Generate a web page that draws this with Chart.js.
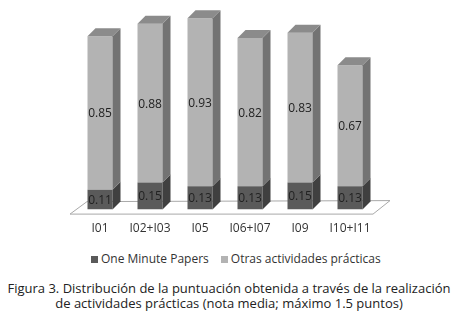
<!DOCTYPE html>
<html>
<head>
<meta charset="utf-8">
<script src="https://cdn.jsdelivr.net/npm/chart.js@4.4.0/dist/chart.umd.min.js"></script>
<style>
  body { margin: 0; background: #fff; }
  #wrap { position: relative; width: 458px; height: 314px; overflow: hidden; font-family: "Open Sans", sans-serif; }
  #box { position: absolute; left: 0; top: 0; width: 458px; height: 248px; }
  #legend {
    position: absolute; left: 91px; top: 251px; display: flex; gap: 12px;
    font-size: 12px; line-height: 16px; color: #333;
  }
  #legend span.sw { display: inline-block; width: 7px; height: 7px; margin-right: 3px; vertical-align: 0px; }
  #caption {
    position: absolute; left: 0; top: 281px; width: 458px;
    text-align: center; font-size: 13px; line-height: 15px; color: #222;
  }
</style>
</head>
<body>
<div id="wrap">
  <div id="box"><canvas id="chart"></canvas></div>
  <div id="legend"></div>
  <div id="caption">Figura 3. Distribución de la puntuación obtenida a través de la realización<br>de actividades prácticas (nota media; máximo 1.5 puntos)</div>
</div>
<script>
const labels = ["I01", "I02+I03", "I05", "I06+I07", "I09", "I10+I11"];
const oneMinutePapers = [0.11, 0.15, 0.13, 0.13, 0.15, 0.13];
const otrasActividades = [0.85, 0.88, 0.93, 0.82, 0.83, 0.67];

// depth of the fake 3d boxes
const DX = 8;
const DY = 8;

const sideColors = ["#404040", "#737373"];
const topColor = "#8b8b8b";

const floorPlugin = {
  id: "floor",
  beforeDatasetsDraw(chart) {
    const ctx = chart.ctx;
    const x = chart.scales.x;
    const y0 = chart.scales.y.getPixelForValue(0);
    const left = x.left;
    const right = x.right;
    ctx.save();
    ctx.beginPath();
    ctx.moveTo(left - 5, y0 + 4.5);
    ctx.lineTo(right - 2, y0 + 4.5);
    ctx.lineTo(right + 15, y0 - 9);
    ctx.lineTo(left + 12, y0 - 8);
    ctx.closePath();
    ctx.fillStyle = "#fff";
    ctx.fill();
    ctx.strokeStyle = "#a8a8a8";
    ctx.lineWidth = 1;
    ctx.stroke();
    ctx.restore();
  }
};

const boxPlugin = {
  id: "box3d",
  afterDatasetsDraw(chart) {
    const ctx = chart.ctx;
    ctx.save();
    chart.data.datasets.forEach((ds, di) => {
      const meta = chart.getDatasetMeta(di);
      meta.data.forEach((bar, i) => {
        const p = bar.getProps(["x", "y", "base", "width"], true);
        const x2 = p.x + p.width / 2;
        const x1 = p.x - p.width / 2;
        // side face
        ctx.beginPath();
        ctx.moveTo(x2, p.y);
        ctx.lineTo(x2 + DX, p.y - DY);
        ctx.lineTo(x2 + DX, p.base - DY);
        ctx.lineTo(x2, p.base);
        ctx.closePath();
        ctx.fillStyle = sideColors[di];
        ctx.fill();
        // top face only on the last segment
        if (di === chart.data.datasets.length - 1) {
          ctx.beginPath();
          ctx.moveTo(x1, p.y);
          ctx.lineTo(x1 + DX, p.y - DY);
          ctx.lineTo(x2 + DX, p.y - DY);
          ctx.lineTo(x2, p.y);
          ctx.closePath();
          ctx.fillStyle = topColor;
          ctx.fill();
        }
        // value label
        ctx.fillStyle = "#222";
        ctx.font = "12px 'Open Sans', sans-serif";
        ctx.textAlign = "center";
        ctx.textBaseline = "middle";
        ctx.fillText(ds.data[i].toFixed(2), p.x, (p.y + p.base) / 2 + 1);
      });
    });
    ctx.restore();
  }
};

const chart = new Chart(document.getElementById("chart"), {
  type: "bar",
  data: {
    labels: labels,
    datasets: [
      {
        label: "One Minute Papers",
        data: oneMinutePapers,
        backgroundColor: "#5a5a5a",
        categoryPercentage: 1,
        barPercentage: 0.5
      },
      {
        label: "Otras actividades prácticas",
        data: otrasActividades,
        backgroundColor: "#b3b3b3",
        categoryPercentage: 1,
        barPercentage: 0.5
      }
    ]
  },
  options: {
    responsive: true,
    maintainAspectRatio: false,
    animation: false,
    layout: { padding: { left: 75, right: 83, top: 11, bottom: 0 } },
    plugins: {
      tooltip: { enabled: false },
      legend: { display: false }
    },
    scales: {
      x: {
        stacked: true,
        grid: { display: false, drawTicks: false },
        border: { display: false },
        ticks: {
          padding: 12,
          color: "#333",
          font: { family: "Open Sans", size: 12 }
        }
      },
      y: {
        stacked: true,
        display: false,
        min: 0,
        max: 1.1
      }
    }
  },
  plugins: [floorPlugin, boxPlugin]
});

// html legend built from the datasets
const legendEl = document.getElementById("legend");
chart.data.datasets.forEach((ds) => {
  const item = document.createElement("div");
  item.innerHTML = '<span class="sw" style="background:' + ds.backgroundColor + '"></span>' + ds.label;
  legendEl.appendChild(item);
});
</script>
</body>
</html>
